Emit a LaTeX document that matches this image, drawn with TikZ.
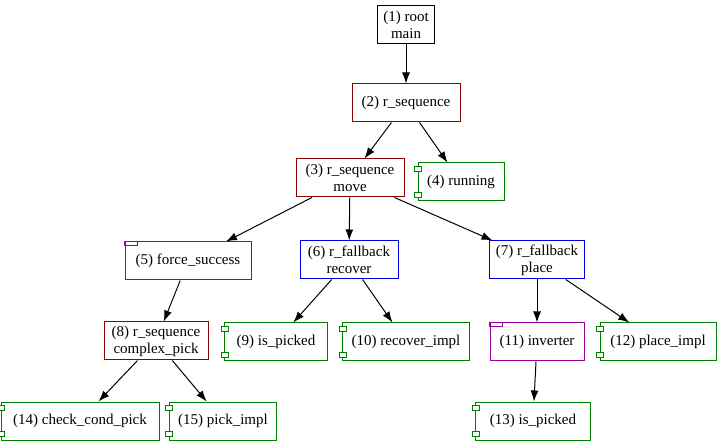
\documentclass[tikz,border=0pt]{standalone}
\usepackage{fontspec}
\setmainfont{Liberation Serif}
\usetikzlibrary{arrows.meta}
\definecolor{seqred}{RGB}{139,0,0}
\definecolor{leafgreen}{RGB}{0,128,0}
\definecolor{decopurple}{RGB}{150,0,150}
\definecolor{fallblue}{RGB}{0,0,230}

\begin{document}
\begin{tikzpicture}[x=1pt,y=-1pt,
    box/.style={draw=#1, line width=1pt, fill=white, align=center, inner xsep=6pt, minimum height=38pt, font=\fontsize{15}{17}\selectfont},
    box/.default=black,
    seq/.style={box=seqred},
    fall/.style={box=fallblue},
    deco/.style={box=decopurple},
    leaf/.style={box=leafgreen, inner xsep=9pt},
    edge/.style={-{Latex[length=11pt,width=8pt]}, line width=1pt}]
  \useasboundingbox (0,0) rectangle (720,443);

  % tree nodes
  \node[box] (root) at (406,25) {(1) root\\main};
  \node[seq, minimum width=108pt] (seqa) at (406,103) {(2) r\_sequence};
  \node[seq, minimum width=108pt] (move) at (350,178) {(3) r\_sequence\\move};
  \node[leaf, minimum width=86pt] (running) at (461,182) {(4) running};
  \node[deco, minimum width=126pt] (force) at (188,261) {(5) force\_success};
  \node[fall, minimum width=98pt] (recover) at (349,260) {(6) r\_fallback\\recover};
  \node[fall, minimum width=95pt] (place) at (537,260) {(7) r\_fallback\\place};
  \node[seq, minimum width=104pt] (pick) at (156,341) {(8) r\_sequence\\complex\_pick};
  \node[leaf, minimum width=103pt] (picked) at (276,342) {(9) is\_picked};
  \node[leaf, minimum width=127pt] (recimpl) at (406,342) {(10) recover\_impl};
  \node[deco, minimum width=94pt] (inverter) at (537,342) {(11) inverter};
  \node[leaf, minimum width=116pt] (plimpl) at (658,342) {(12) place\_impl};
  \node[leaf, minimum width=115pt] (picked2) at (533,421) {(13) is\_picked};
  \node[leaf, minimum width=158pt] (cond) at (80,421) {(14) check\_cond\_pick};
  \node[leaf, minimum width=98pt] (pimpl) at (223,421) {(15) pick\_impl};

  % component tabs and folder tabs
  \foreach \n in {running,picked,recimpl,plimpl,picked2,cond,pimpl} {
    \draw[leafgreen, line width=0.8pt, fill=white] ([xshift=-3pt,yshift=-4pt]\n.north west) rectangle ++(7pt,-5pt);
    \draw[leafgreen, line width=0.8pt, fill=white] ([xshift=-3pt,yshift=4pt]\n.south west) rectangle ++(7pt,5pt);
  }
  \foreach \n in {force,inverter}
    \draw[decopurple, line width=0.8pt] (\n.north west) rectangle ++(13pt,-4pt);

  % edges
  \draw[edge] (root) -- (seqa);
  \draw[edge] (seqa) -- (move);
  \draw[edge] (seqa) -- (running);
  \draw[edge] (move) -- (force);
  \draw[edge] (move) -- (recover);
  \draw[edge] (move) -- (place);
  \draw[edge] (force) -- (pick);
  \draw[edge] (recover) -- (picked);
  \draw[edge] (recover) -- (recimpl);
  \draw[edge] (place) -- (inverter);
  \draw[edge] (place) -- (plimpl);
  \draw[edge] (inverter) -- (picked2);
  \draw[edge] (pick) -- (cond);
  \draw[edge] (pick) -- (pimpl);
\end{tikzpicture}
\end{document}
